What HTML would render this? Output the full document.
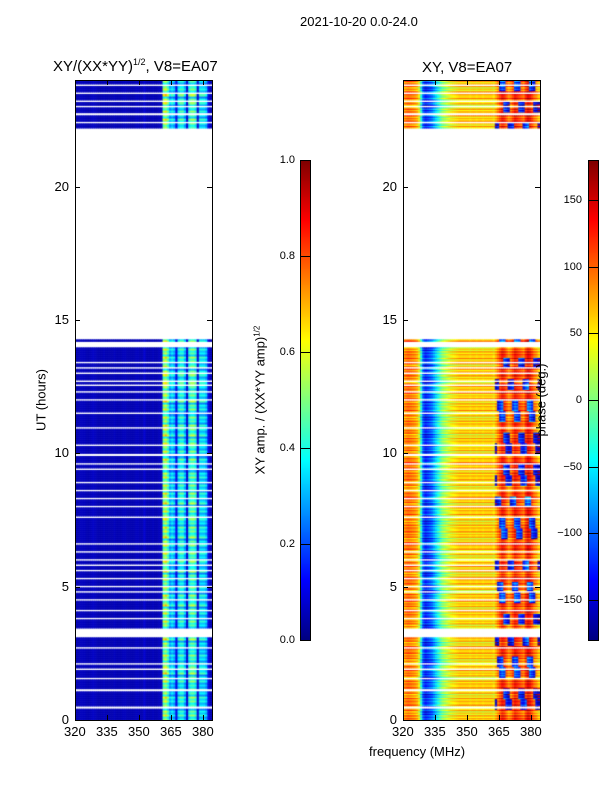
<!DOCTYPE html>
<html><head><meta charset="utf-8">
<style>
body{margin:0;background:#fff;font-family:"Liberation Sans",sans-serif;}
#root{position:relative;width:600px;height:800px;overflow:hidden;background:#fff;}
.t{position:absolute;font-size:13px;color:#000;white-space:nowrap;}
canvas{position:absolute;}
.frame{position:absolute;border:1px solid #000;box-sizing:border-box;}
</style></head><body>
<div id="root">
<div class="t" style="left:300px;top:14px;">2021-10-20 0.0-24.0</div>
<div class="t" style="left:53px;top:57px;font-size:15px;">XY/(XX*YY)<sup style="font-size:9px">1/2</sup>, V8=EA07</div>
<div class="t" style="left:422px;top:59px;font-size:15px;">XY, V8=EA07</div>
<canvas id="c1" width="137" height="640" style="left:75px;top:80px"></canvas>
<canvas id="c2" width="137" height="640" style="left:403px;top:80px"></canvas>
<div class="frame" style="left:75px;top:80px;width:138px;height:641px"></div>
<div class="frame" style="left:403px;top:80px;width:138px;height:641px"></div>
<canvas id="cb1" width="10" height="480" style="left:300px;top:160px"></canvas>
<canvas id="cb2" width="10" height="480" style="left:588px;top:160px"></canvas>
<div class="frame" style="left:300px;top:160px;width:11px;height:481px"></div>
<div class="frame" style="left:588px;top:160px;width:11px;height:481px"></div>
<div class="t" style="left:41px;top:400px;transform:translate(-50%,-50%) rotate(-90deg);">UT (hours)</div>
<div class="t" style="left:369px;top:744px;">frequency (MHz)</div>
<div class="t" style="left:260px;top:400px;transform:translate(-50%,-50%) rotate(-90deg);">XY amp. / (XX*YY amp)<sup style="font-size:8px">1/2</sup></div>
<div class="t" style="left:541px;top:400px;transform:translate(-50%,-50%) rotate(-90deg);">phase (deg.)</div>
</div>
<script>
const ampProfile=[.05,.05,.06,.06,.06,.05,.05,.06,.07,.06,.05,.05,.05,.06,.05,.05,.05,.05,.06,.05,.05,.05,.06,.06,.05,.05,.05,.05,.06,.06,.05,.05,.08,.05,.05,.05,.06,.05,.05,.06,.06,.5,.55,.45,.3,.35,.3,.1,.35,.4,.4,.3,.08,.4,.45,.45,.4,.08,.35,.35,.35,.3,.1,.05];
const phaseProfile=[80,90,95,90,85,80,70,40,-40,-110,-130,-120,-110,-100,-80,-60,-40,-20,0,10,20,30,40,45,50,55,60,60,60,60,60,55,60,60,55,60,60,55,60,60,60,60,50,70,90,110,130,120,100,80,90,110,130,120,110,100,90,120,140,130,110,90,80,60];
const rowVar=[1,0.8,1.2,0.9,1.1,0.7,1.3,1,0.85,1.15,0.95,1.25,0.75,1.05,0.9,1.2,0.8];
const rowPhase=[0,20,-15,30,-25,10,-35,25,-10,15,-20,35,-5];
const bandFlip=[0,1,1,0,1,1,0,1,0,1,0,1,1,0,1,0,0,1,1,0,1,0,1,1];
const gaps=[[0.42,0.52],[1.08,1.17],[1.52,1.6],[1.88,1.96],[2.08,2.16],[2.68,2.76],[3.1,3.45],[3.78,3.86],[4.08,4.16],[4.48,4.56],[4.78,4.86],[4.98,5.06],[5.28,5.36],[5.58,5.66],[5.78,5.86],[5.98,6.06],[6.28,6.36],[6.58,6.66],[7.58,7.66],[7.98,8.06],[8.28,8.36],[8.58,8.66],[8.88,8.96],[9.38,9.46],[9.58,9.66],[9.9,10.0],[10.28,10.36],[10.92,11.0],[11.48,11.56],[11.98,12.06],[12.28,12.36],[12.52,12.6],[12.68,12.76],[12.98,13.06],[13.18,13.26],[13.38,13.46],[13.98,14.2],[14.27,22.2],[22.38,22.46],[22.68,22.78],[22.98,23.06],[23.18,23.26],[23.48,23.56],[23.78,23.86]];
const xTicks=[320,335,350,365,380];
const yTicks=[0,5,10,15,20];
const ampTicks=[0.0,0.2,0.4,0.6,0.8,1.0];
const phaseTicks=[-150,-100,-50,0,50,100,150];

const X0=320,X1=384.2,Y0=0,Y1=24,W=137,H=640;
const xs=v=>(v-X0)/(X1-X0)*W;
const ys=v=>H-(v-Y0)/(Y1-Y0)*H;
function jet(t){t=Math.max(0,Math.min(1,t));
 const f=x=>Math.max(0,Math.min(1,x));
 const r=f(1.5-Math.abs(4*t-3)),g=f(1.5-Math.abs(4*t-2)),b=f(1.5-Math.abs(4*t-1));
 return `rgb(${r*255|0},${g*255|0},${b*255|0})`;}
const inGap=h=>gaps.some(g=>h>=g[0]&&h<g[1]);
const c1=document.getElementById('c1').getContext('2d');
const c2=document.getElementById('c2').getContext('2d');
const dh=0.025;
for(let r=0;r<960;r++){const h=r*dh; if(inGap(h+dh/2))continue;
 const y0=ys(h+dh),y1=ys(h);
 const blk=Math.floor(h*2.5)%bandFlip.length;
 for(let c=0;c<ampProfile.length;c++){
  const f0=X0+c,xa=xs(f0),xb=xs(f0+1);
  let a=ampProfile[c]; if(a>0.15)a*=rowVar[Math.floor(r/3)%rowVar.length];
  c1.fillStyle=jet(a);c1.fillRect(xa,y0,xb-xa+0.5,y1-y0+0.5);
  let p=phaseProfile[c]+rowPhase[Math.floor(r/2)%rowPhase.length];
  if(c>42 && bandFlip[blk] && ((c+blk)%7)<3) p-=230;
  p=((p+180)%360+360)%360-180;
  c2.fillStyle=jet((p+180)/360);c2.fillRect(xa,y0,xb-xa+0.5,y1-y0+0.5);
 }}
function bar(id){const g=document.getElementById(id).getContext('2d');for(let i=0;i<480;i++){g.fillStyle=jet(1-i/480);g.fillRect(0,i,10,1);}}
bar('cb1');bar('cb2');
const root=document.getElementById('root');
function el(cls,css,txt,name){const d=document.createElement('div');d.className=cls;d.style.cssText=css;if(txt!==undefined)d.textContent=txt;
 
 
 root.appendChild(d);return d;}
[75,403].forEach((L,pi)=>{
 xTicks.forEach(v=>{const x=L+xs(v);
  el('','position:absolute;left:'+x+'px;top:715px;width:1px;height:5px;background:#000','', 'x-tick');
  el('','position:absolute;left:'+x+'px;top:80px;width:1px;height:5px;background:#000','', 'x-tick-top');
  el('t','left:'+(x-11)+'px;top:724px;',String(v),'x-tick-label');});
 yTicks.forEach(v=>{const y=80+ys(v);
  el('','position:absolute;left:'+L+'px;top:'+y+'px;width:5px;height:1px;background:#000','', 'y-tick');
  el('','position:absolute;left:'+(L+132)+'px;top:'+y+'px;width:5px;height:1px;background:#000','', 'y-tick-right');
  el('t','left:'+(L-40)+'px;top:'+(y-8)+'px;width:34px;text-align:right;',String(v),'y-tick-label');});
});
ampTicks.forEach(v=>{const y=640-v*480;
 el('','position:absolute;left:300px;top:'+y+'px;width:10px;height:1px;background:#000','', 'amp-colorbar-tick');
 el('t','left:260px;top:'+(y-6)+'px;width:35px;text-align:right;font-size:11px;',v.toFixed(1),'amp-colorbar-label');});
phaseTicks.forEach(v=>{const y=640-(v+180)/360*480;
 el('','position:absolute;left:588px;top:'+y+'px;width:10px;height:1px;background:#000','', 'phase-colorbar-tick');
 el('t','left:545px;top:'+(y-6)+'px;width:37px;text-align:right;font-size:11px;',(v<0?'\u2212'+(-v):String(v)),'phase-colorbar-label');});
</script>
</body></html>
